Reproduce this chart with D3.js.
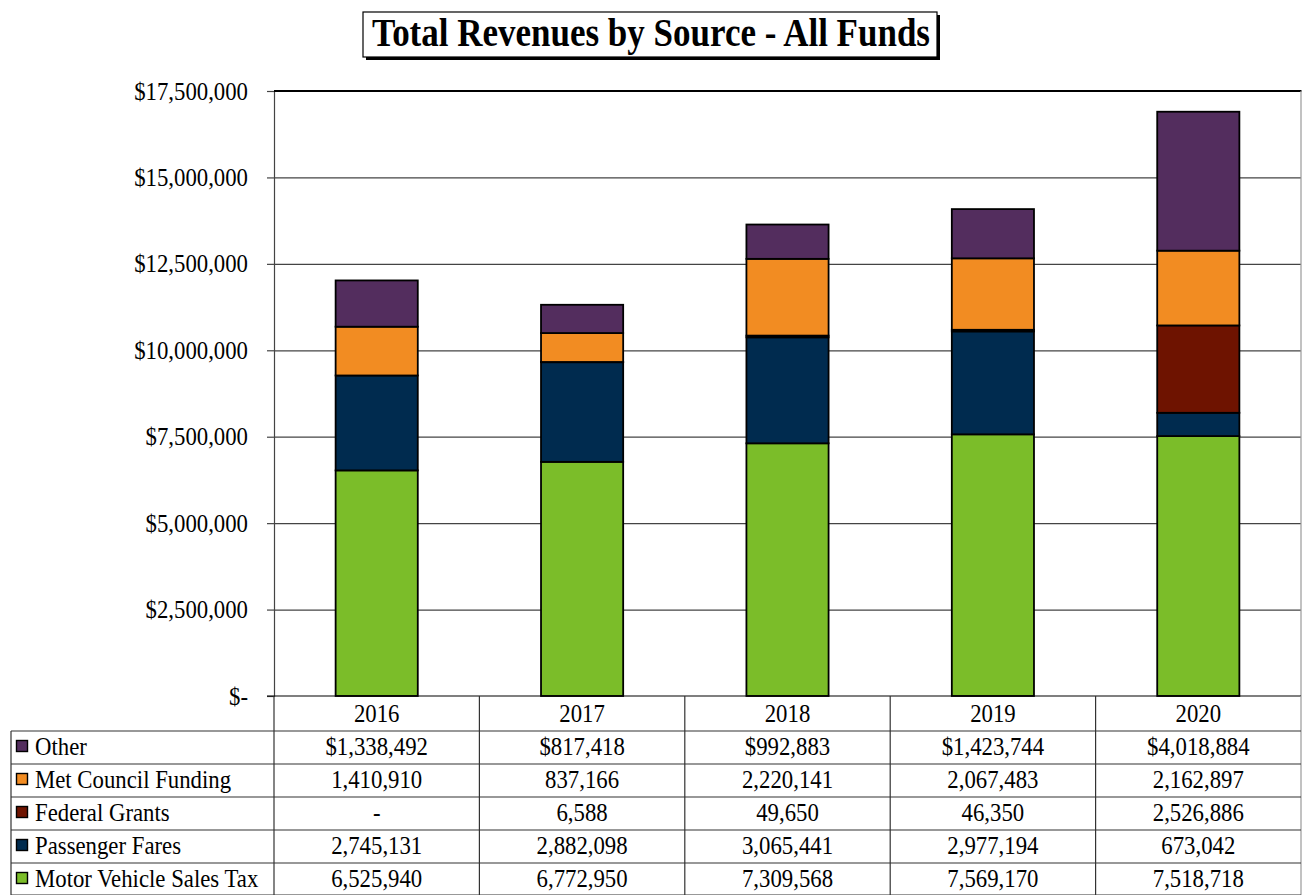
<!DOCTYPE html>
<html>
<head>
<meta charset="utf-8">
<script src="https://cdn.jsdelivr.net/npm/d3@7"></script>
<style>
  html, body { margin: 0; padding: 0; background: #fff; }
  svg { display: block; }
</style>
</head>
<body>
<svg id="chart" width="1302" height="895"></svg>
<script>
const years = ["2016", "2017", "2018", "2019", "2020"];
const seriesNames = ["Other", "Met Council Funding", "Federal Grants", "Passenger Fares", "Motor Vehicle Sales Tax"];
const other = [1338492, 817418, 992883, 1423744, 4018884];
const metCouncil = [1410910, 837166, 2220141, 2067483, 2162897];
const federalGrants = [0, 6588, 49650, 46350, 2526886];
const passengerFares = [2745131, 2882098, 3065441, 2977194, 673042];
const mvst = [6525940, 6772950, 7309568, 7569170, 7518718];
const yTicks = [0, 2500000, 5000000, 7500000, 10000000, 12500000, 15000000, 17500000];
const colors = {
  "Other": "#532d5e",
  "Met Council Funding": "#f28c22",
  "Federal Grants": "#6e1300",
  "Passenger Fares": "#002b4f",
  "Motor Vehicle Sales Tax": "#7bbd29"
};
const valuesBySeries = {
  "Other": other,
  "Met Council Funding": metCouncil,
  "Federal Grants": federalGrants,
  "Passenger Fares": passengerFares,
  "Motor Vehicle Sales Tax": mvst
};
const FONT = "'Liberation Serif', 'Times New Roman', Times, 'DejaVu Serif', serif";
const FS = 24.5;
const SX = 0.93;

const svg = d3.select("#chart").attr("font-family", FONT);
const L = 274, R = 1301, T = 91, B = 696;

const x = d3.scaleBand().domain(years).range([L, R]).paddingInner(0).paddingOuter(0);
const y = d3.scaleLinear().domain([0, 17500000]).range([B, T]);

function txt(g, tx, ty, s, anchor) {
  return g.append("text")
    .attr("transform", `translate(${tx},${ty}) scale(${SX},1)`)
    .attr("font-family", FONT).attr("font-size", FS).attr("fill", "#000")
    .attr("text-anchor", anchor || "start").text(s);
}

// Title
const tg = svg.append("g");
tg.append("rect").attr("x", 366).attr("y", 15).attr("width", 574).attr("height", 45).attr("fill", "#000");
tg.append("rect").attr("x", 363).attr("y", 12).attr("width", 574).attr("height", 45).attr("fill", "#fff").attr("stroke", "#000").attr("stroke-width", 1.2);
tg.append("text").attr("x", 651).attr("y", 46).attr("text-anchor", "middle")
  .attr("font-family", FONT)
  .attr("font-size", 39).attr("font-weight", "bold").attr("fill", "#000")
  .attr("textLength", 558).attr("lengthAdjust", "spacingAndGlyphs")
  .text("Total Revenues by Source - All Funds");

// Gridlines
svg.append("g").selectAll("line").data(yTicks.filter(d => d > 0 && d < 17500000)).join("line")
  .attr("x1", L).attr("x2", R).attr("y1", d => y(d) + 0.5).attr("y2", d => y(d) + 0.5)
  .attr("stroke", "#444").attr("stroke-width", 1.2);

// Y axis
const yAxis = d3.axisLeft(y).tickValues(yTicks).tickSize(7)
  .tickFormat(d => d === 0 ? "$-" : "$" + d3.format(",")(d));
const ya = svg.append("g").attr("transform", `translate(${L},0)`).call(yAxis)
  .attr("font-family", FONT).attr("font-size", FS);
ya.select(".domain").attr("stroke", "#444").attr("stroke-width", 1.2);
ya.selectAll(".tick line").attr("stroke", "#444").attr("stroke-width", 1.2);
ya.selectAll(".tick text").attr("font-size", FS).attr("fill", "#000")
  .attr("font-family", FONT)
  .attr("x", 0).attr("dy", null).attr("y", 8)
  .attr("transform", `translate(-26,0) scale(${SX},1)`);

// Plot border top / right
svg.append("line").attr("x1", L).attr("x2", R + 0.5).attr("y1", T).attr("y2", T).attr("stroke", "#000").attr("stroke-width", 2);
svg.append("line").attr("x1", R).attr("x2", R).attr("y1", T).attr("y2", B).attr("stroke", "#999").attr("stroke-width", 1.2);

// Stacked bars
const stackOrder = ["Motor Vehicle Sales Tax", "Passenger Fares", "Federal Grants", "Met Council Funding", "Other"];
const tableData = years.map((yr, i) => {
  const o = { year: yr };
  seriesNames.forEach(s => o[s] = valuesBySeries[s][i]);
  return o;
});
const stacked = d3.stack().keys(stackOrder)(tableData);
const barW = x.bandwidth() * 0.4;
svg.append("g").selectAll("g").data(stacked).join("g")
  .attr("fill", d => colors[d.key])
  .selectAll("rect").data(d => d.filter(p => p[1] - p[0] > 0)).join("rect")
  .attr("x", d => x(d.data.year) + (x.bandwidth() - barW) / 2)
  .attr("width", barW)
  .attr("y", d => y(d[1]))
  .attr("height", d => y(d[0]) - y(d[1]))
  .attr("stroke", "#000").attr("stroke-width", 1.8);

// Baseline
svg.append("line").attr("x1", L - 7).attr("x2", R).attr("y1", B).attr("y2", B).attr("stroke", "#000").attr("stroke-width", 1.2);

// Data table
const tableLeft = 11;
const rowTops = [696, 731, 764, 797, 830, 863, 895];
const tbl = svg.append("g").attr("font-family", FONT);
years.forEach((yr) => {
  tbl.append("line").attr("x1", x(yr)).attr("x2", x(yr)).attr("y1", B).attr("y2", 895)
    .attr("stroke", "#333").attr("stroke-width", 1.2);
});
tbl.append("line").attr("x1", R).attr("x2", R).attr("y1", B).attr("y2", 895).attr("stroke", "#999").attr("stroke-width", 1.2);
tbl.append("line").attr("x1", tableLeft).attr("x2", tableLeft).attr("y1", 731).attr("y2", 895).attr("stroke", "#333").attr("stroke-width", 1.2);
rowTops.slice(1).forEach(yy => {
  tbl.append("line").attr("x1", tableLeft).attr("x2", R).attr("y1", yy).attr("y2", yy)
    .attr("stroke", "#333").attr("stroke-width", 1.2);
});
years.forEach(yr => txt(tbl, x(yr) + x.bandwidth() / 2, 722, yr, "middle"));
seriesNames.forEach((s, r) => {
  const top = rowTops[r + 1];
  tbl.append("rect").attr("x", 16.5).attr("y", top + 9.5).attr("width", 11).attr("height", 11)
    .attr("fill", colors[s]).attr("stroke", "#000").attr("stroke-width", 1.4);
  txt(tbl, 35, top + 23.5, s, "start");
  valuesBySeries[s].forEach((v, i) => {
    let label = v === 0 ? "-" : d3.format(",")(v);
    if (r === 0) label = "$" + label;
    txt(tbl, x(years[i]) + x.bandwidth() / 2, top + 23.5, label, "middle");
  });
});
</script>
</body>
</html>
